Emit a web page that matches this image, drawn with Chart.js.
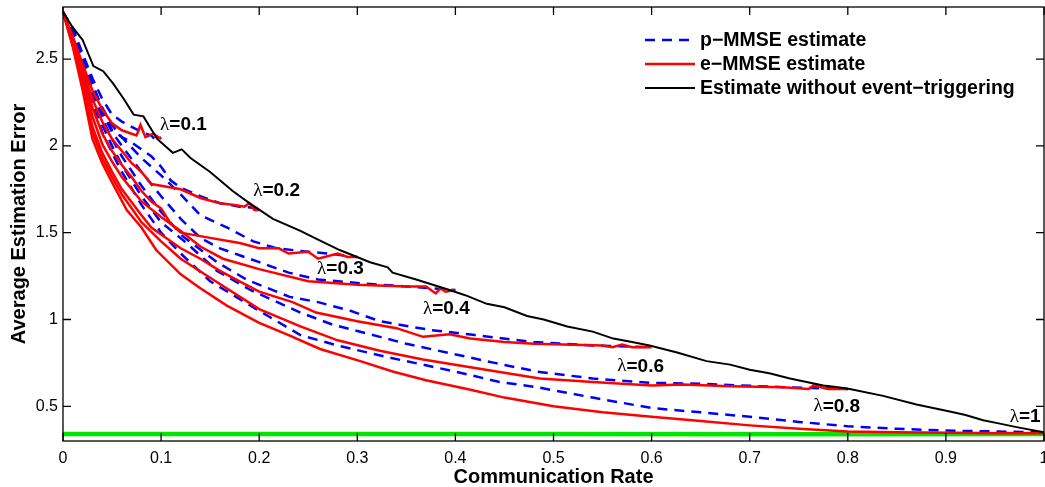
<!DOCTYPE html>
<html>
<head>
<meta charset="utf-8">
<script src="https://cdn.jsdelivr.net/npm/chart.js@4/dist/chart.umd.min.js"></script>
<style>
  body { margin: 0; background: #fff; }
  canvas { display: block; }
</style>
</head>
<body>
<canvas id="plot" width="1045" height="487"></canvas>
<script>
// tick labels
const xTicks = [0, 0.1, 0.2, 0.3, 0.4, 0.5, 0.6, 0.7, 0.8, 0.9, 1];
const yTicks = [0.5, 1, 1.5, 2, 2.5];

// e-MMSE estimate, one curve per lambda: [communication rate, error]
const e01 = [[0,2.77],[0.005,2.70],[0.01,2.63],[0.02,2.47],[0.03,2.32],[0.04,2.21],[0.05,2.13],[0.06,2.09],[0.07,2.07],[0.075,2.06],[0.079,2.12],[0.084,2.05],[0.092,2.07],[0.1,2.04]];
const e02 = [[0,2.77],[0.01,2.62],[0.02,2.44],[0.03,2.27],[0.04,2.14],[0.05,2.04],[0.06,1.97],[0.07,1.90],[0.08,1.85],[0.09,1.78],[0.1,1.77],[0.12,1.75],[0.14,1.70],[0.16,1.67],[0.175,1.66],[0.185,1.65],[0.19,1.67],[0.195,1.63],[0.2,1.63]];
const e03 = [[0,2.77],[0.01,2.61],[0.02,2.42],[0.03,2.22],[0.04,2.07],[0.05,1.97],[0.06,1.89],[0.07,1.82],[0.08,1.74],[0.09,1.68],[0.1,1.64],[0.11,1.55],[0.12,1.50],[0.15,1.47],[0.18,1.44],[0.2,1.41],[0.22,1.41],[0.23,1.38],[0.25,1.39],[0.26,1.35],[0.28,1.38],[0.29,1.36],[0.3,1.36]];
const e04 = [[0,2.77],[0.01,2.60],[0.02,2.40],[0.03,2.17],[0.04,2.01],[0.05,1.91],[0.06,1.82],[0.08,1.68],[0.1,1.59],[0.12,1.51],[0.14,1.42],[0.163,1.35],[0.2,1.29],[0.25,1.22],[0.3,1.20],[0.35,1.19],[0.37,1.19],[0.38,1.15],[0.385,1.18],[0.39,1.16],[0.4,1.17]];
const e06 = [[0,2.77],[0.01,2.59],[0.02,2.37],[0.03,2.11],[0.04,1.96],[0.05,1.85],[0.06,1.75],[0.08,1.60],[0.09,1.53],[0.1,1.49],[0.12,1.41],[0.14,1.35],[0.16,1.28],[0.18,1.22],[0.2,1.16],[0.234,1.10],[0.258,1.04],[0.3,0.99],[0.34,0.95],[0.367,0.90],[0.394,0.915],[0.415,0.89],[0.45,0.87],[0.48,0.86],[0.52,0.855],[0.55,0.85],[0.56,0.84],[0.57,0.855],[0.58,0.84],[0.6,0.84]];
const e08 = [[0,2.77],[0.01,2.58],[0.02,2.35],[0.03,2.08],[0.04,1.93],[0.05,1.82],[0.06,1.72],[0.08,1.56],[0.1,1.45],[0.12,1.35],[0.15,1.24],[0.2,1.06],[0.242,0.96],[0.28,0.88],[0.323,0.82],[0.367,0.77],[0.42,0.72],[0.486,0.66],[0.54,0.64],[0.6,0.62],[0.632,0.625],[0.68,0.615],[0.734,0.61],[0.76,0.60],[0.765,0.62],[0.78,0.60],[0.8,0.60]];
const e10 = [[0,2.77],[0.01,2.57],[0.02,2.32],[0.03,2.04],[0.04,1.90],[0.05,1.79],[0.065,1.63],[0.08,1.53],[0.095,1.40],[0.12,1.26],[0.14,1.18],[0.167,1.08],[0.2,0.98],[0.23,0.91],[0.262,0.83],[0.303,0.76],[0.336,0.70],[0.37,0.65],[0.412,0.60],[0.45,0.55],[0.5,0.50],[0.55,0.465],[0.6,0.44],[0.65,0.415],[0.7,0.39],[0.75,0.37],[0.8,0.355],[0.85,0.35],[0.9,0.347],[0.95,0.345],[1,0.345]];

// p-MMSE estimate
const p01 = [[0,2.77],[0.01,2.68],[0.02,2.53],[0.03,2.39],[0.04,2.27],[0.05,2.18],[0.06,2.14],[0.07,2.11],[0.08,2.08],[0.09,2.06],[0.095,2.03],[0.1,2.05]];
const p02 = [[0,2.77],[0.01,2.67],[0.02,2.51],[0.03,2.36],[0.04,2.21],[0.05,2.09],[0.06,2.05],[0.07,2.02],[0.08,1.98],[0.09,1.94],[0.1,1.88],[0.11,1.80],[0.12,1.76],[0.14,1.71],[0.16,1.67],[0.18,1.65],[0.2,1.64]];
const p03 = [[0,2.77],[0.01,2.67],[0.02,2.50],[0.03,2.35],[0.04,2.22],[0.05,2.12],[0.06,2.05],[0.08,1.93],[0.1,1.83],[0.12,1.72],[0.14,1.60],[0.167,1.53],[0.194,1.45],[0.218,1.41],[0.25,1.39],[0.27,1.38],[0.3,1.36]];
const p04 = [[0,2.77],[0.01,2.66],[0.02,2.49],[0.03,2.33],[0.04,2.19],[0.05,2.08],[0.06,2.00],[0.08,1.85],[0.1,1.71],[0.12,1.58],[0.14,1.47],[0.16,1.41],[0.18,1.37],[0.2,1.33],[0.23,1.27],[0.26,1.23],[0.3,1.21],[0.35,1.19],[0.4,1.17]];
const p06 = [[0,2.77],[0.01,2.65],[0.02,2.47],[0.03,2.30],[0.04,2.16],[0.05,2.04],[0.06,1.94],[0.08,1.77],[0.1,1.62],[0.122,1.48],[0.157,1.33],[0.187,1.23],[0.231,1.13],[0.26,1.10],[0.293,1.05],[0.323,0.99],[0.343,0.97],[0.374,0.94],[0.42,0.91],[0.48,0.87],[0.54,0.85],[0.6,0.84]];
const p08 = [[0,2.77],[0.01,2.64],[0.02,2.46],[0.03,2.27],[0.04,2.12],[0.05,2.00],[0.06,1.89],[0.08,1.71],[0.1,1.56],[0.126,1.44],[0.157,1.28],[0.191,1.17],[0.242,1.04],[0.275,0.97],[0.323,0.90],[0.35,0.86],[0.391,0.81],[0.44,0.75],[0.483,0.70],[0.54,0.66],[0.6,0.635],[0.65,0.63],[0.734,0.61],[0.8,0.60]];
const p10 = [[0,2.77],[0.01,2.63],[0.02,2.44],[0.03,2.24],[0.04,2.08],[0.05,1.96],[0.06,1.85],[0.08,1.66],[0.1,1.50],[0.12,1.38],[0.15,1.22],[0.2,1.05],[0.242,0.91],[0.28,0.85],[0.333,0.78],[0.4,0.70],[0.445,0.64],[0.483,0.61],[0.54,0.55],[0.6,0.49],[0.65,0.465],[0.7,0.44],[0.75,0.41],[0.8,0.385],[0.85,0.37],[0.9,0.36],[0.95,0.355],[1,0.35]];

// estimate without event-triggering
const noTrigger = [[0,2.77],[0.009,2.69],[0.02,2.61],[0.031,2.46],[0.041,2.43],[0.051,2.36],[0.062,2.27],[0.072,2.18],[0.082,2.17],[0.096,2.04],[0.112,1.96],[0.121,1.98],[0.13,1.93],[0.15,1.85],[0.173,1.74],[0.19,1.67],[0.214,1.58],[0.242,1.51],[0.26,1.46],[0.282,1.40],[0.313,1.33],[0.331,1.30],[0.336,1.27],[0.36,1.23],[0.377,1.20],[0.394,1.17],[0.41,1.14],[0.432,1.09],[0.45,1.07],[0.473,1.02],[0.49,1.00],[0.514,0.96],[0.54,0.93],[0.561,0.89],[0.58,0.87],[0.598,0.85],[0.626,0.81],[0.656,0.76],[0.68,0.74],[0.7,0.71],[0.72,0.69],[0.741,0.66],[0.775,0.62],[0.79,0.61],[0.802,0.60],[0.836,0.56],[0.87,0.51],[0.904,0.47],[0.92,0.45],[0.938,0.42],[0.955,0.40],[0.972,0.38],[1,0.35]];

// green floor
const floorLine = [[0,0.34],[0.25,0.341],[0.5,0.34],[0.75,0.339],[1,0.34]];

// curve annotations
const lambdaText = ['0.1', '0.2', '0.3', '0.4', '0.6', '0.8', '1'];
const lambdaAt = [[0.099,2.12],[0.194,1.74],[0.259,1.29],[0.367,1.06],[0.565,0.73],[0.765,0.50],[0.965,0.44]];

const legendText = ['p\u2212MMSE estimate', 'e\u2212MMSE estimate', 'Estimate without event\u2212triggering'];

const FONT = '"Liberation Sans", Arial, Helvetica, sans-serif';
const toXY = pts => pts.map(p => ({x: p[0], y: p[1]}));

const datasets = [];
datasets.push({data: toXY(noTrigger), borderColor: '#000', borderWidth: 2, order: 0});
[e01, e02, e03, e04, e06, e08, e10].forEach(c => {
  datasets.push({data: toXY(c), borderColor: '#ff0000', borderWidth: 2.5, order: 1});
});
[p01, p02, p03, p04, p06, p08, p10].forEach(c => {
  datasets.push({data: toXY(c), borderColor: '#0000ff', borderWidth: 2.5, borderDash: [10, 7], order: 2});
});
datasets.push({data: toXY(floorLine), borderColor: '#00e600', borderWidth: 4.5, order: 3});

const frame = {
  id: 'frame',
  afterDatasetsDraw(chart) {
    const {ctx, chartArea: a, scales} = chart;
    ctx.save();
    ctx.strokeStyle = '#000';
    ctx.lineWidth = 1.3;
    ctx.strokeRect(a.left, a.top, a.right - a.left, a.bottom - a.top);
    ctx.beginPath();
    xTicks.forEach(v => {
      const px = scales.x.getPixelForValue(v);
      ctx.moveTo(px, a.bottom); ctx.lineTo(px, a.bottom - 8);
      ctx.moveTo(px, a.top); ctx.lineTo(px, a.top + 8);
    });
    yTicks.forEach(v => {
      const py = scales.y.getPixelForValue(v);
      ctx.moveTo(a.left, py); ctx.lineTo(a.left + 8, py);
      ctx.moveTo(a.right, py); ctx.lineTo(a.right - 8, py);
    });
    ctx.stroke();

    // lambda labels
    ctx.fillStyle = '#000';
    ctx.textBaseline = 'middle';
    lambdaText.forEach((t, i) => {
      let x = scales.x.getPixelForValue(lambdaAt[i][0]);
      const y = scales.y.getPixelForValue(lambdaAt[i][1]);
      ctx.font = '19px "Liberation Serif", "DejaVu Serif", serif';
      ctx.fillText('\u03bb', x, y);
      x += ctx.measureText('\u03bb').width;
      ctx.font = 'bold 19px ' + FONT;
      ctx.fillText('=' + t, x, y);
    });

    // legend
    const lx = a.left + 582, ly = a.top + 33, step = 24;
    const styles = [
      {c: '#0000ff', d: [10, 7]},
      {c: '#ff0000', d: []},
      {c: '#000', d: []}
    ];
    ctx.font = 'bold 19.5px ' + FONT;
    legendText.forEach((t, i) => {
      const y = ly + i * step;
      ctx.beginPath();
      ctx.setLineDash(styles[i].d);
      ctx.strokeStyle = styles[i].c;
      ctx.lineWidth = i === 2 ? 2 : 2.5;
      ctx.moveTo(lx, y); ctx.lineTo(lx + 50, y);
      ctx.stroke();
      ctx.setLineDash([]);
      ctx.fillText(t, lx + 55, y + 1);
    });
    ctx.restore();
  }
};

document.addEventListener('DOMContentLoaded', () => {
  const ctx = document.getElementById('plot').getContext('2d');
  new Chart(ctx, {
    type: 'line',
    data: {datasets},
    options: {
      responsive: false,
      animation: false,
      devicePixelRatio: 1,
      layout: {padding: {top: 7, right: 1, left: 0, bottom: 0}},
      elements: {point: {radius: 0}, line: {tension: 0, borderCapStyle: 'butt'}},
      scales: {
        x: {
          type: 'linear', min: 0, max: 1,
          afterBuildTicks: s => { s.ticks = xTicks.map(v => ({value: v})); },
          afterFit: s => { s.height = 46; s.paddingLeft = 0; s.paddingRight = 0; },
          grid: {display: false, drawTicks: false},
          border: {display: false},
          ticks: {color: '#000', padding: 8, maxRotation: 0, autoSkip: false,
                  font: {family: FONT, size: 16}, callback: v => String(v)},
          title: {display: true, text: 'Communication Rate', color: '#000', padding: 0,
                  font: {family: FONT, size: 20, weight: 'bold', lineHeight: 1}}
        },
        y: {
          type: 'linear', min: 0.3, max: 2.8,
          afterBuildTicks: s => { s.ticks = yTicks.map(v => ({value: v})); },
          afterFit: s => { s.width = 63; s.paddingTop = 0; s.paddingBottom = 0; },
          grid: {display: false, drawTicks: false},
          border: {display: false},
          ticks: {color: '#000', padding: 5, font: {family: FONT, size: 16}, callback: v => String(v)},
          title: {display: true, text: 'Average Estimation Error', color: '#000', padding: {top: 9, bottom: 0},
                  font: {family: FONT, size: 20, weight: 'bold', lineHeight: 1}}
        }
      },
      plugins: {legend: {display: false}, tooltip: {enabled: false}}
    },
    plugins: [frame]
  });
});
</script>
</body>
</html>
